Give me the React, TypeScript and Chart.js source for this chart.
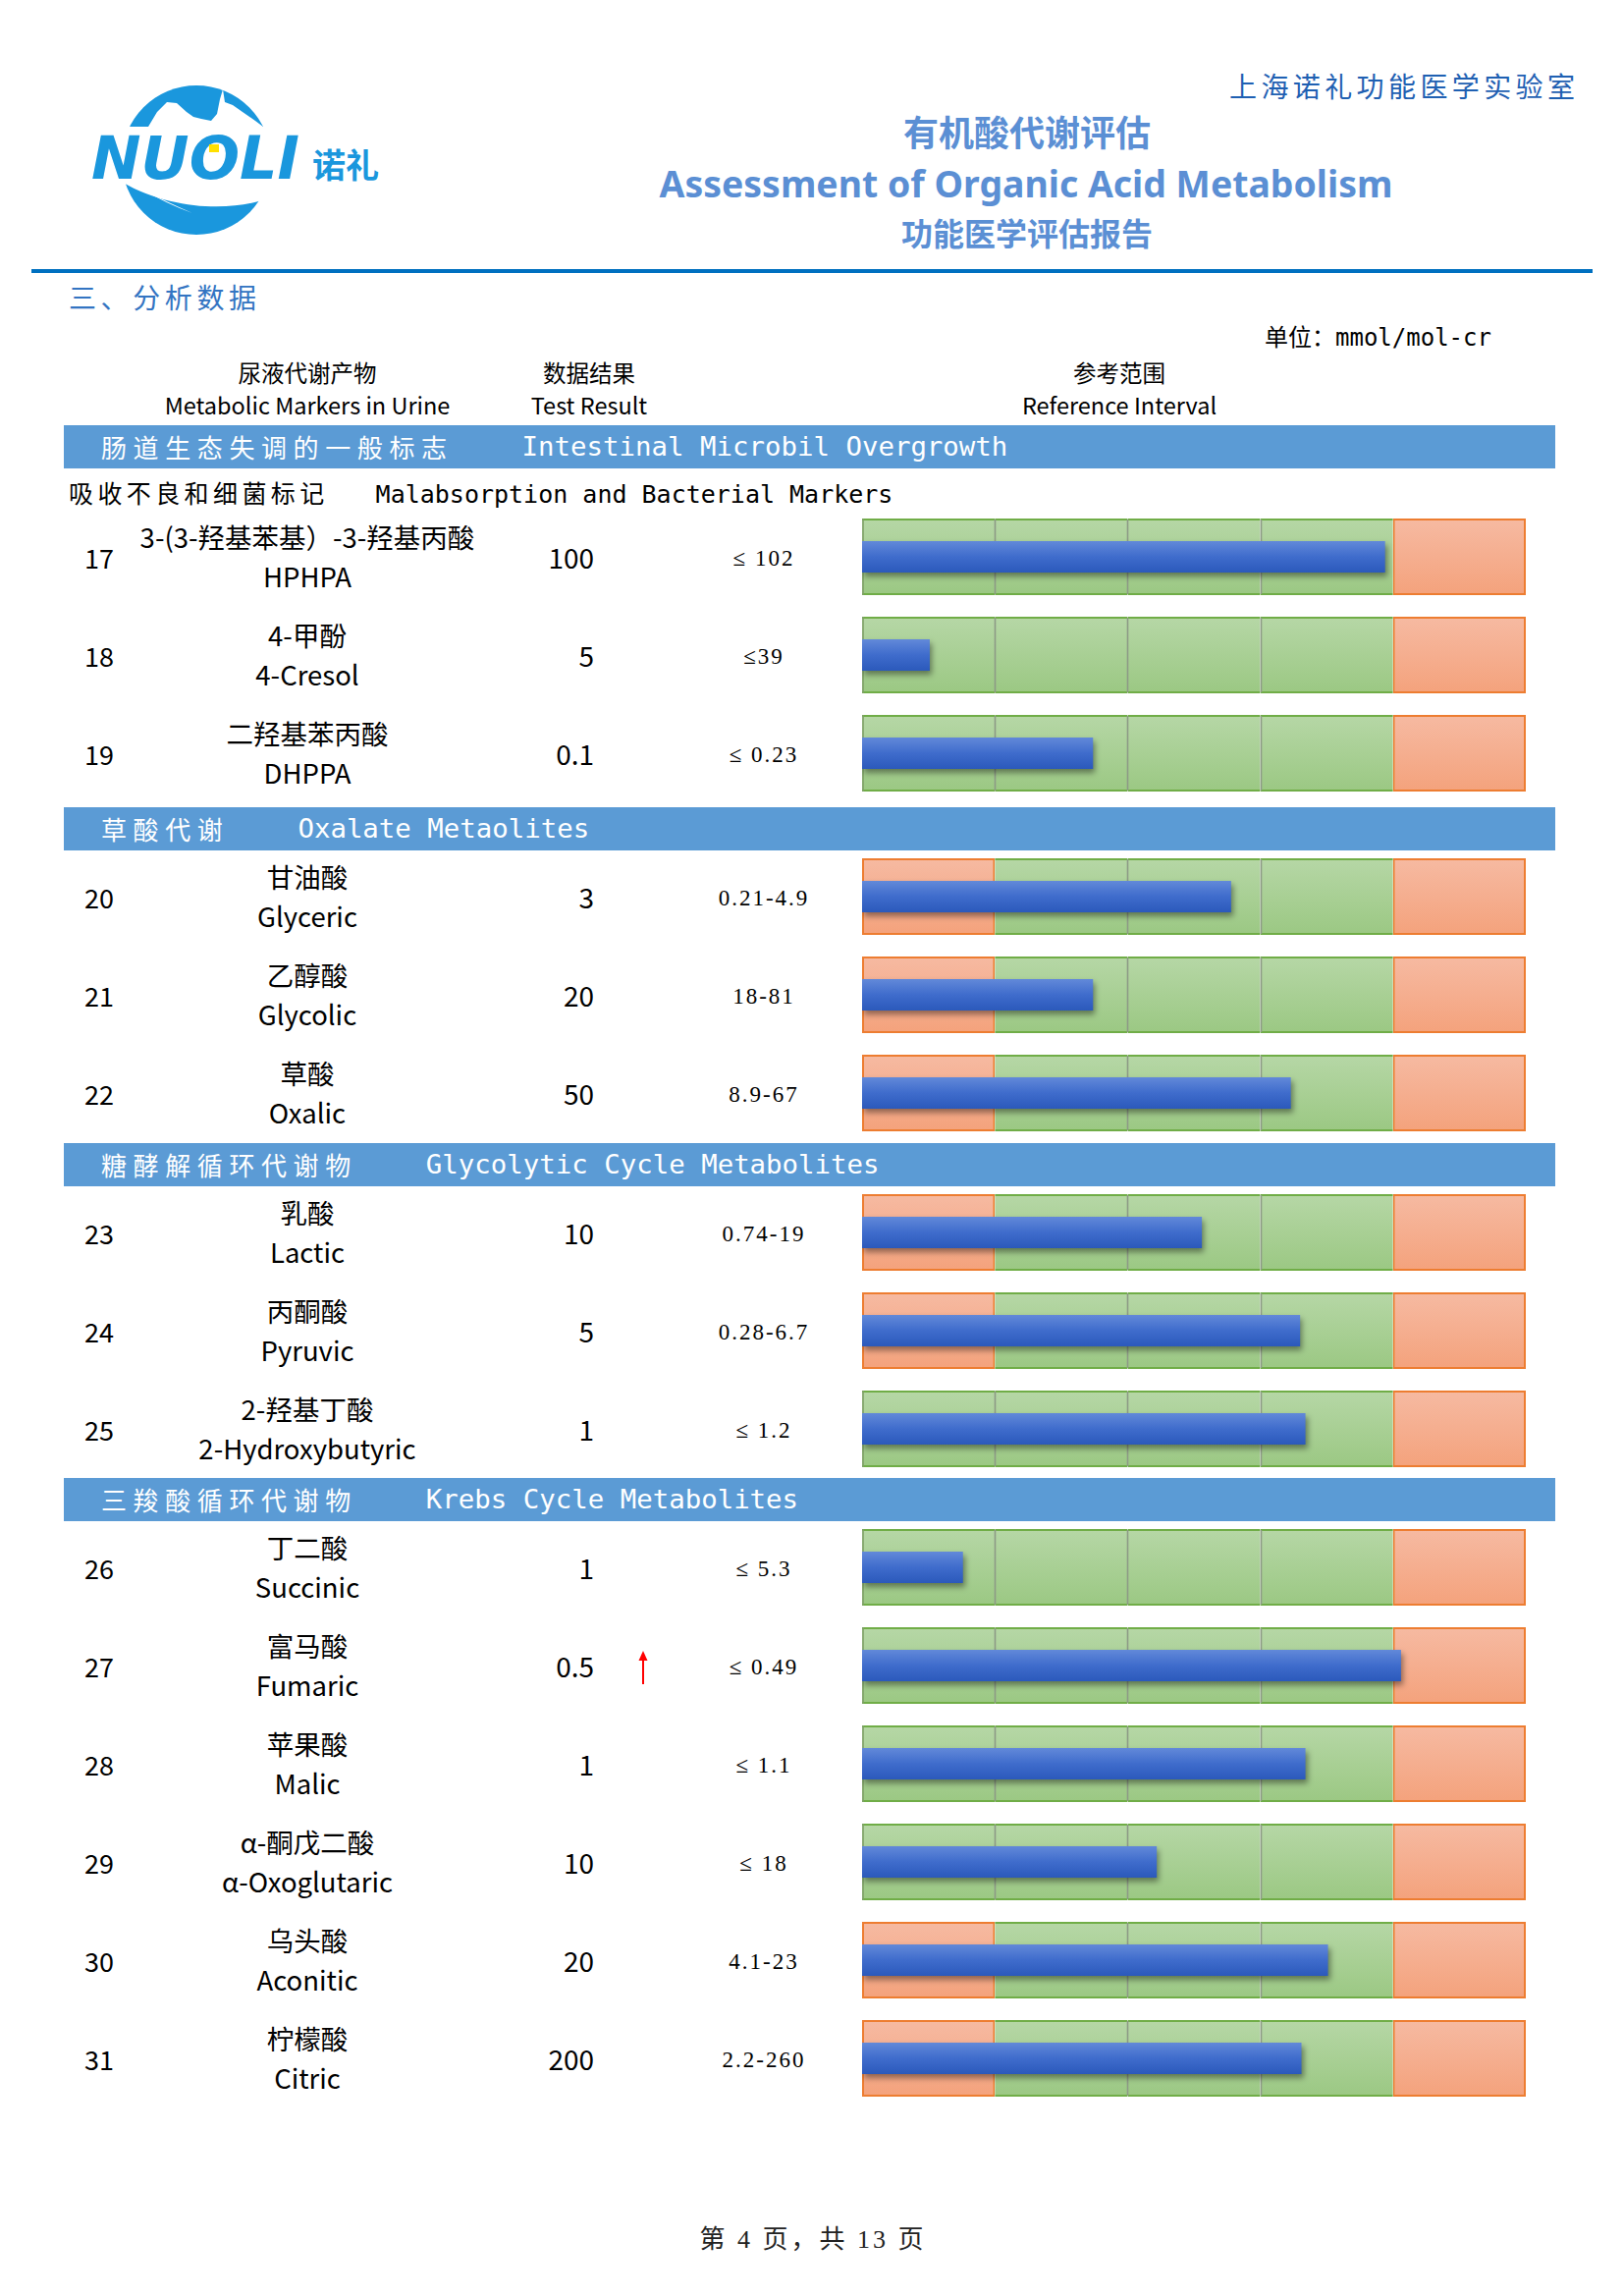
import React, { useEffect, useRef } from 'react';
import { Chart, registerables } from 'chart.js';

Chart.register(...registerables);

// ---------------- data ----------------
const markerIds = [17, 18, 19, 20, 21, 22, 23, 24, 25, 26, 27, 28, 29, 30, 31];
const markerZh = [
  '3-(3-羟基苯基）-3-羟基丙酸', '4-甲酚', '二羟基苯丙酸',
  '甘油酸', '乙醇酸', '草酸',
  '乳酸', '丙酮酸', '2-羟基丁酸',
  '丁二酸', '富马酸', '苹果酸', 'α-酮戊二酸', '乌头酸', '柠檬酸',
];
const markerEn = [
  'HPHPA', '4-Cresol', 'DHPPA',
  'Glyceric', 'Glycolic', 'Oxalic',
  'Lactic', 'Pyruvic', '2-Hydroxybutyric',
  'Succinic', 'Fumaric', 'Malic', 'α-Oxoglutaric', 'Aconitic', 'Citric',
];
const resultValues = [100, 5, 0.1, 3, 20, 50, 10, 5, 1, 1, 0.5, 1, 10, 20, 200];
const refIntervals = [
  '≤ 102', '≤39', '≤ 0.23',
  '0.21-4.9', '18-81', '8.9-67',
  '0.74-19', '0.28-6.7', '≤ 1.2',
  '≤ 5.3', '≤ 0.49', '≤ 1.1', '≤ 18', '4.1-23', '2.2-260',
];
// bar end, in units of the 5-cell scale (0..5)
const barLevels = [3.94, 0.51, 1.74, 2.78, 1.74, 3.23, 2.56, 3.3, 3.34, 0.76, 4.06, 3.34, 2.22, 3.51, 3.31];
const hasLowZone = [false, false, false, true, true, true, true, true, false, false, false, false, false, true, true];
const highFlags = [false, false, false, false, false, false, false, false, false, false, true, false, false, false, false];
const cellLabels = ['c1', 'c2', 'c3', 'c4', 'c5'];
const sectionZh = ['肠道生态失调的一般标志', '草酸代谢', '糖酵解循环代谢物', '三羧酸循环代谢物'];
const sectionEn = ['Intestinal Microbil Overgrowth', 'Oxalate Metaolites', 'Glycolytic Cycle Metabolites', 'Krebs Cycle Metabolites'];
const sectionSizes = [3, 3, 3, 6];

// ---------------- layout ----------------
const W = 1653;
const H = 2338;
const SEC_TOP = [433, 822, 1164, 1505];
const SEC_H = 44;
const SEC_LEFT = 65;
const SEC_RIGHT = 1584;
const CHART_LEFT = 876;
const CHART_W = 680;
const CHART_H = 82;

const CJK = '"Noto Sans CJK SC", "Noto Sans", sans-serif';
const MONO = '"DejaVu Sans Mono", "Noto Sans CJK SC", monospace';
const SERIF = '"Liberation Serif", "DejaVu Serif", "Noto Sans CJK SC", serif';

const GREEN_TOP = '#b6d7a6';
const GREEN_BOTTOM = '#9bc883';
const GREEN_BORDER = '#70ad47';
const RED_TOP = '#f6baa2';
const RED_BOTTOM = '#f4a27c';
const RED_BORDER = '#ed7d31';

function vGrad(c: any, stops: string[], frac = 1) {
  const { ctx, chartArea } = c.chart;
  if (!chartArea) return stops[stops.length - 1];
  const h = chartArea.bottom - chartArea.top;
  const pad = (h * (1 - frac)) / 2;
  const g = ctx.createLinearGradient(0, chartArea.top + pad, 0, chartArea.bottom - pad);
  stops.forEach((s, i) => g.addColorStop(i / (stops.length - 1), s));
  return g;
}

const cellPlugin = {
  id: 'cellDecor',
  beforeDatasetDraw(chart: any, args: any, opts: any) {
    const ds = chart.data.datasets[args.index];
    if (ds.label !== 'value') return;
    const { ctx, chartArea, scales } = chart;
    const zones: string[] = opts.zones || [];
    ctx.save();
    ctx.lineWidth = 1.6;
    for (let k = 1; k < zones.length; k++) {
      if (zones[k - 1] === 'N' && zones[k] === 'N') {
        const px = Math.round(scales.x.getPixelForValue(k)) + 0.5;
        ctx.strokeStyle = '#8d9a86';
        ctx.beginPath();
        ctx.moveTo(px, chartArea.top + 1);
        ctx.lineTo(px, chartArea.bottom - 1);
        ctx.stroke();
      }
    }
    if (zones[0] === 'N') {
      const px = scales.x.getPixelForValue(0) + 1;
      ctx.strokeStyle = '#7fa068';
      ctx.beginPath();
      ctx.moveTo(px, chartArea.top);
      ctx.lineTo(px, chartArea.bottom);
      ctx.stroke();
    }
    ctx.restore();
    ctx.save();
    ctx.shadowColor = 'rgba(0,0,0,0.42)';
    ctx.shadowBlur = 6;
    ctx.shadowOffsetX = 2;
    ctx.shadowOffsetY = 4;
  },
  afterDatasetDraw(chart: any, args: any) {
    const ds = chart.data.datasets[args.index];
    if (ds.label !== 'value') return;
    chart.ctx.restore();
  },
};

function RowBar({ level, low, y }: { level: number; low: boolean; y: number }) {
  const ref = useRef<HTMLCanvasElement>(null);
  useEffect(() => {
    const zones = low ? ['L', 'N', 'N', 'N', 'H'] : ['N', 'N', 'N', 'N', 'H'];
    const cellSets = cellLabels.map((lab, k) => {
      const isGreen = zones[k] === 'N';
      return {
        label: lab,
        data: [1],
        stack: 'bg',
        order: 1,
        barPercentage: 1,
        categoryPercentage: 1,
        borderSkipped: false,
        inflateAmount: 0,
        borderColor: isGreen ? GREEN_BORDER : RED_BORDER,
        borderWidth: isGreen ? { top: 2, bottom: 2, left: 0, right: 0 } : 2,
        backgroundColor: (c: any) => vGrad(c, isGreen ? [GREEN_TOP, GREEN_BOTTOM] : [RED_TOP, RED_BOTTOM]),
      };
    });
    const valueSet = {
      label: 'value',
      data: [level],
      stack: 'val',
      order: 0,
      grouped: false,
      barPercentage: 0.41,
      categoryPercentage: 1,
      borderWidth: 0,
      inflateAmount: 0,
      backgroundColor: (c: any) => vGrad(c, ['#6289d9', '#3f6ccc', '#2b59bb'], 0.41),
    };
    const chart = new Chart(ref.current as HTMLCanvasElement, {
      type: 'bar',
      data: { labels: [''], datasets: [...cellSets, valueSet] as any },
      options: {
        indexAxis: 'y',
        animation: false,
        responsive: false,
        maintainAspectRatio: false,
        events: [],
        layout: { padding: 2 },
        scales: {
          x: { min: 0, max: 5, stacked: true, display: false },
          y: { stacked: true, display: false },
        },
        plugins: {
          legend: { display: false },
          tooltip: { enabled: false },
          cellDecor: { zones },
        } as any,
      },
      plugins: [cellPlugin],
    });
    return () => chart.destroy();
  }, [level, low]);
  return (
    <canvas
      ref={ref}
      width={CHART_W}
      height={CHART_H}
      style={{ position: 'absolute', left: CHART_LEFT, top: y - CHART_H / 2, width: CHART_W, height: CHART_H }}
    />
  );
}

type TProps = {
  x: number;
  y: number;
  align?: 'left' | 'center' | 'right';
  size: number;
  font?: string;
  color?: string;
  weight?: number | string;
  spacing?: number;
  children: React.ReactNode;
};

function T({ x, y, align = 'left', size, font = CJK, color = '#000', weight = 400, spacing = 0, children }: TProps) {
  const style: React.CSSProperties = {
    position: 'absolute',
    top: y,
    fontSize: size,
    fontFamily: font,
    color,
    fontWeight: weight as any,
    letterSpacing: spacing,
    lineHeight: 1,
    whiteSpace: 'pre',
  };
  if (align === 'left') {
    style.left = x;
    style.transform = 'translateY(-50%)';
  } else if (align === 'right') {
    style.right = W - x;
    style.transform = 'translateY(-50%)';
  } else {
    style.left = x;
    style.transform = 'translate(-50%, -50%)';
  }
  return <div style={style}>{children}</div>;
}

function Logo() {
  const blue = '#1a97dd';
  return (
    <svg
      viewBox="80 60 320 190"
      width={320}
      height={190}
      style={{ position: 'absolute', left: 80, top: 60 }}
    >
      <defs>
        <clipPath id="globe">
          <circle cx={200} cy={163} r={76} />
        </clipPath>
      </defs>
      <g clipPath="url(#globe)">
        <rect x={110} y={80} width={180} height={49} fill={blue} />
        <polygon
          fill="#fff"
          points="151,129 160,114 170,104 180,105 190,114 197,119 205,121 215,123 221,116 224,101 227,91 229,104 237,107 247,114 260,123 268,129"
        />
        <path d={`M122,184 A76,76 0 0 0 270,203 C238,214 176,216 122,184 Z`} fill={blue} />
        <path d="M142,191 Q168,207 196,217 Q166,204 142,191 Z" fill="#fff" />
      </g>
      <text
        x={93}
        y={182}
        fontFamily='"DejaVu Sans", sans-serif'
        fontWeight="bold"
        fontStyle="italic"
        fontSize={60}
        fill={blue}
        textLength={212}
        lengthAdjust="spacingAndGlyphs"
      >
        NUOLI
      </text>
      <rect x={213} y={147} width={10} height={8} fill="#ffe000" />
      <text x={318} y={181} fontFamily={CJK} fontWeight="bold" fontSize={34} fill={blue}>
        诺礼
      </text>
    </svg>
  );
}

function SectionBar({ s }: { s: number }) {
  const top = SEC_TOP[s];
  return (
    <div
      style={{
        position: 'absolute',
        left: SEC_LEFT,
        top,
        width: SEC_RIGHT - SEC_LEFT,
        height: SEC_H,
        background: '#5b9bd5',
        display: 'flex',
        alignItems: 'center',
        color: '#fff',
        whiteSpace: 'nowrap',
      }}
    >
      <span style={{ marginLeft: 38, fontFamily: CJK, fontSize: 26, letterSpacing: 6.6, lineHeight: 1 }}>{sectionZh[s]}</span>
      <span style={{ marginLeft: 70, fontFamily: MONO, fontSize: 27.4, lineHeight: 1 }}>{sectionEn[s]}</span>
    </div>
  );
}

export default function App() {
  const rowYs: number[] = [];
  sectionSizes.forEach((n, s) => {
    const first = SEC_TOP[s] + SEC_H + (s === 0 ? 90 : 47);
    for (let k = 0; k < n; k++) rowYs.push(first + k * 100);
  });

  return (
    <div style={{ position: 'absolute', left: 0, top: 0, width: W, height: H, background: '#fff', overflow: 'hidden' }}>
      <Logo />
      <T x={1252} y={87} size={28} spacing={4.4} color="#1f60b2">上海诺礼功能医学实验室</T>
      <T x={1046} y={133} align="center" size={36} weight={700} color="#5b8fd4">有机酸代谢评估</T>
      <T x={1045} y={187} align="center" size={37.4} weight={700} color="#5b8fd4" font='"Noto Sans", sans-serif'>
        Assessment of Organic Acid Metabolism
      </T>
      <T x={1046} y={236} align="center" size={32} weight={700} color="#5b8fd4">功能医学评估报告</T>
      <div style={{ position: 'absolute', left: 32, top: 274, width: 1590, height: 4, background: '#0070c0' }} />

      <T x={70} y={302} size={28} spacing={4.6} color="#3374c2">三、分析数据</T>
      <div style={{ position: 'absolute', left: 1288, top: 343, transform: 'translateY(-50%)', whiteSpace: 'nowrap', lineHeight: 1 }}>
        <span style={{ fontFamily: CJK, fontSize: 24 }}>单位：</span>
        <span style={{ fontFamily: MONO, fontSize: 24 }}>mmol/mol-cr</span>
      </div>

      <T x={313} y={380} align="center" size={23.5}>尿液代谢产物</T>
      <T x={313} y={413} align="center" size={23.5}>Metabolic Markers in Urine</T>
      <T x={600} y={380} align="center" size={23.5}>数据结果</T>
      <T x={600} y={413} align="center" size={23.5}>Test Result</T>
      <T x={1140} y={380} align="center" size={23.5}>参考范围</T>
      <T x={1140} y={413} align="center" size={23.5}>Reference Interval</T>

      {sectionZh.map((_, s) => (
        <SectionBar key={s} s={s} />
      ))}

      <div style={{ position: 'absolute', left: 70, top: 502, transform: 'translateY(-50%)', whiteSpace: 'nowrap', lineHeight: 1 }}>
        <span style={{ fontFamily: CJK, fontSize: 25, letterSpacing: 4.4 }}>吸收不良和细菌标记</span>
        <span style={{ marginLeft: 48, fontFamily: MONO, fontSize: 25 }}>Malabsorption and Bacterial Markers</span>
      </div>

      {markerIds.map((id, i) => {
        const y = rowYs[i];
        return (
          <React.Fragment key={id}>
            <T x={86} y={y} size={27}>{id}</T>
            <T x={313} y={y - 20} align="center" size={27.5}>{markerZh[i]}</T>
            <T x={313} y={y + 20} align="center" size={27.5}>{markerEn[i]}</T>
            <T x={605} y={y} align="right" size={28}>{resultValues[i]}</T>
            {highFlags[i] && (
              <svg
                width={14}
                height={36}
                viewBox="0 0 14 36"
                style={{ position: 'absolute', left: 648, top: y - 15 }}
              >
                <line x1={7} y1={6} x2={7} y2={34} stroke="#ff0000" strokeWidth={2} />
                <polygon points="7,0 2.5,10 11.5,10" fill="#ff0000" />
              </svg>
            )}
            <T x={778} y={y + 1} align="center" size={23} font={SERIF} spacing={2}>{refIntervals[i]}</T>
            <RowBar level={barLevels[i]} low={hasLowZone[i]} y={y} />
          </React.Fragment>
        );
      })}

      <T x={828} y={2281} align="center" size={26} font={SERIF} spacing={3} color="#222">第 4 页，共 13 页</T>
    </div>
  );
}
